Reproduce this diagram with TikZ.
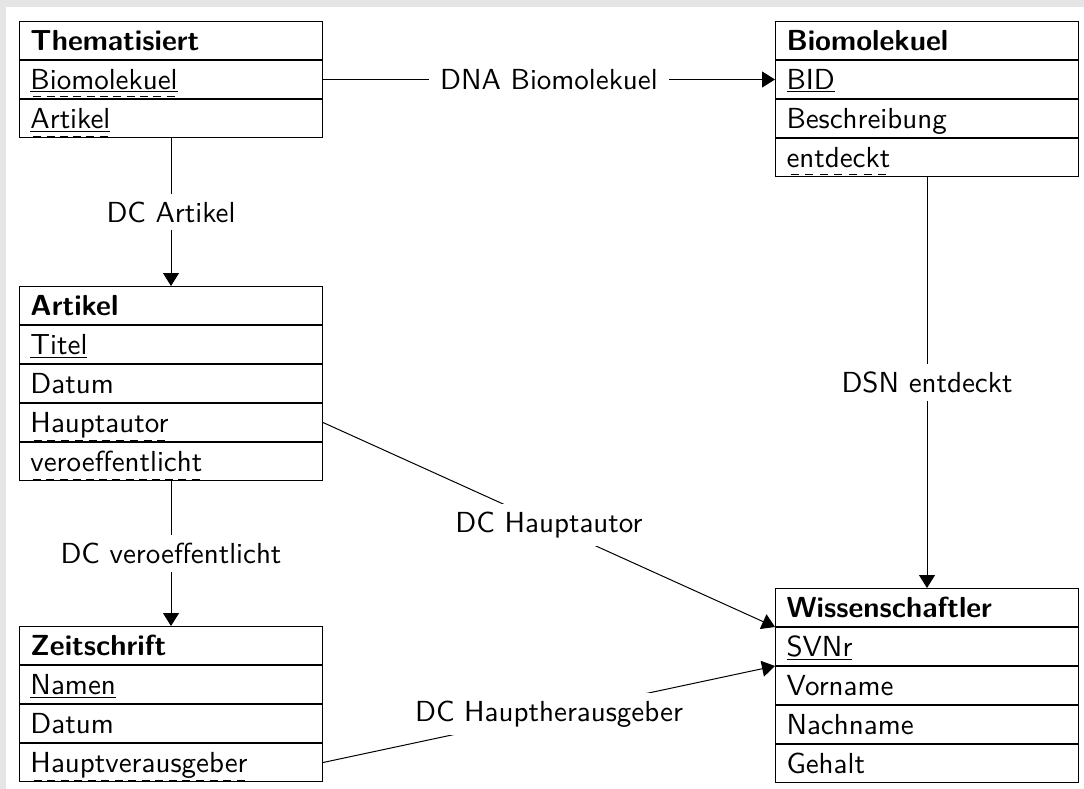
\documentclass[tikz,border=0pt]{standalone}
\usepackage{fontspec}
\setsansfont{lmsans10-regular.otf}[BoldFont=lmsans10-bold.otf]
\usetikzlibrary{positioning,arrows.meta}

% key markers: solid line = primary key, dashed line = foreign key
\newsavebox\keybox
\newcommand\pkline{\rule[-3pt]{\wd\keybox}{1pt}}
\newcommand\fkline{\hbox to \wd\keybox{\xleaders\hbox to 13pt{\hss\rule[-8pt]{8pt}{1pt}\hss}\hfill}}
\newcommand\pk[1]{\sbox\keybox{#1}\rlap{\usebox\keybox}\pkline}
\newcommand\fk[1]{\sbox\keybox{#1}\rlap{\usebox\keybox}\fkline}
\newcommand\pkfk[1]{\sbox\keybox{#1}\rlap{\usebox\keybox}\rlap{\pkline}\fkline}

\tikzset{
  attr/.style={draw, line width=1pt, rectangle, inner xsep=11pt, inner ysep=0pt,
    text width=281pt, minimum height=38pt, text height=22pt, text depth=2pt,
    font=\fontsize{29}{35}\selectfont\sffamily},
  head/.style={attr, font=\fontsize{29}{35}\selectfont\sffamily\bfseries},
  rel/.style={line width=1pt, -{Triangle[length=13pt,width=16pt]}},
  lbl/.style={fill=white, inner xsep=11pt, inner ysep=8pt,
    font=\fontsize{29}{35}\selectfont\sffamily}
}

\begin{document}
\begin{tikzpicture}[x=1pt,y=1pt]
  \useasboundingbox (0,0) rectangle (1084,-789);
  \fill[gray!20] (0,0) rectangle (1084,-789);
  \fill[white] (6,-7) rectangle (1084,-789);

  % Thematisiert
  \node[head, anchor=north west] (them) at (19,-21) {Thematisiert};
  \node[attr, below=0pt of them] (them-1) {\pkfk{Biomolekuel}};
  \node[attr, below=0pt of them-1] (them-2) {\pkfk{Artikel}};

  % Biomolekuel
  \node[head, anchor=north west] (bio) at (775,-21) {Biomolekuel};
  \node[attr, below=0pt of bio] (bio-1) {\pk{BID}};
  \node[attr, below=0pt of bio-1] (bio-2) {Beschreibung};
  \node[attr, below=0pt of bio-2] (bio-3) {\fk{entdeckt}};

  % Artikel
  \node[head, anchor=north west] (art) at (19,-286) {Artikel};
  \node[attr, below=0pt of art] (art-1) {\pk{Titel}};
  \node[attr, below=0pt of art-1] (art-2) {Datum};
  \node[attr, below=0pt of art-2] (art-3) {\fk{Hauptautor}};
  \node[attr, below=0pt of art-3] (art-4) {\fk{veroeffentlicht}};

  % Zeitschrift
  \node[head, anchor=north west] (zeit) at (19,-626) {Zeitschrift};
  \node[attr, below=0pt of zeit] (zeit-1) {\pk{Namen}};
  \node[attr, below=0pt of zeit-1] (zeit-2) {Datum};
  \node[attr, below=0pt of zeit-2] (zeit-3) {\fk{Hauptverausgeber}};

  % Wissenschaftler
  \node[head, anchor=north west] (wiss) at (775,-588) {Wissenschaftler};
  \node[attr, below=0pt of wiss] (wiss-1) {\pk{SVNr}};
  \node[attr, below=0pt of wiss-1] (wiss-2) {Vorname};
  \node[attr, below=0pt of wiss-2] (wiss-3) {Nachname};
  \node[attr, below=0pt of wiss-3] (wiss-4) {Gehalt};

  % references
  \draw[rel] (them-1) -- node[lbl] {DNA Biomolekuel} (bio-1);
  \draw[rel] (them-2) -- node[lbl] {DC Artikel} (art);
  \draw[rel] (bio-3) -- node[lbl] {DSN entdeckt} (wiss);
  \draw[rel] (art-3.east) -- node[lbl] {DC Hauptautor} (wiss-1.north west);
  \draw[rel] (art-4) -- node[lbl] {DC veroeffentlicht} (zeit);
  \draw[rel] (zeit-3.east) -- node[lbl] {DC Hauptherausgeber} (wiss-1.south west);
\end{tikzpicture}
\end{document}
